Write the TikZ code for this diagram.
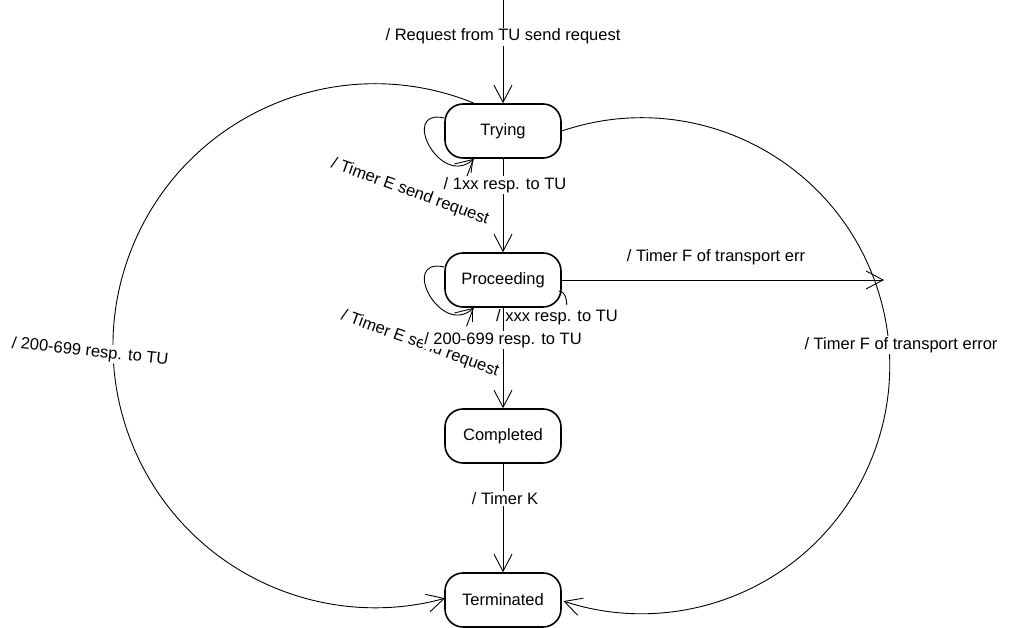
\documentclass[tikz,border=0pt]{standalone}
\usepackage{fontspec}
\setmainfont{Liberation Sans}
\usetikzlibrary{arrows.meta}
\begin{document}
\begin{tikzpicture}[x=1pt,y=1pt,
  font=\fontsize{16.5}{19}\selectfont,
  state/.style={draw, line width=1.6pt, rounded corners=18pt,
    minimum width=116pt, minimum height=54pt, inner sep=0pt},
  edge/.style={line width=0.9pt},
  arr/.style={edge, -{Straight Barb[length=17pt,width=18pt,line width=0.9pt]}},
  lbl/.style={fill=white, inner sep=1.5pt},
  plainlbl/.style={inner sep=1.5pt}]
\useasboundingbox (0,0) rectangle (1013,628);

% states
\node[state] (t)    at (503,497) {Trying};
\node[state] (p)    at (503,348) {Proceeding};
\node[state] (c)    at (503,192) {Completed};
\node[state] (term) at (503,28)  {Terminated};

\coordinate (init) at (503,628);
\coordinate (ferr) at (884,348);

% big transitions to Terminated
\draw[arr] ([xshift=-29pt]t.north) arc[start angle=67.8, end angle=285.5, radius=262pt];
\draw[arr] (t.east) arc[start angle=108.8, end angle=-108.4, radius=248pt];

% self loops
\draw[arr] ([yshift=13pt]t.west) .. controls +(-45,10) and +(-34,-30) .. ([xshift=-29pt]t.south);
\draw[edge] ([xshift=-30pt]t.south) -- ++(-2,-14);
\draw[arr] ([yshift=13pt]p.west) .. controls +(-45,10) and +(-34,-30) .. ([xshift=-29pt]p.south);
\draw[edge] ([xshift=-31pt]p.south) -- ++(0,-14);
\draw[edge] ([xshift=-3pt,yshift=-11pt]p.east) .. controls +(6,0) and +(0,6) .. ([xshift=5pt,yshift=-25pt]p.east);

% loop labels
\node[plainlbl, rotate=-20] at (410,436) {/ Timer E send request};
\node[plainlbl, rotate=-20] at (420,284) {/ Timer E send request};
\node[plainlbl] at (557,311) {/ xxx resp. to TU};

% straight transitions
\draw[arr] (init) -- node[lbl, pos=0.356] {/ Request from TU send request} (t);
\draw[arr] (t) -- node[lbl, pos=0.28, xshift=2pt] {/ 1xx resp. to TU} (p);
\draw[arr] (p) -- node[lbl, pos=0.32] {/ 200-699 resp. to TU} (c);
\draw[arr] (c) -- node[lbl, pos=0.32, xshift=2pt] {/ Timer K} (term);
\draw[arr] (p) -- (ferr);
\node[plainlbl] at (716,371) {/ Timer F of transport err};

% labels on the big arcs
\node[lbl, rotate=-6] at (90,276) {/ 200-699 resp. to TU};
\node[lbl] at (901,283) {/ Timer F of transport error};
\end{tikzpicture}
\end{document}
